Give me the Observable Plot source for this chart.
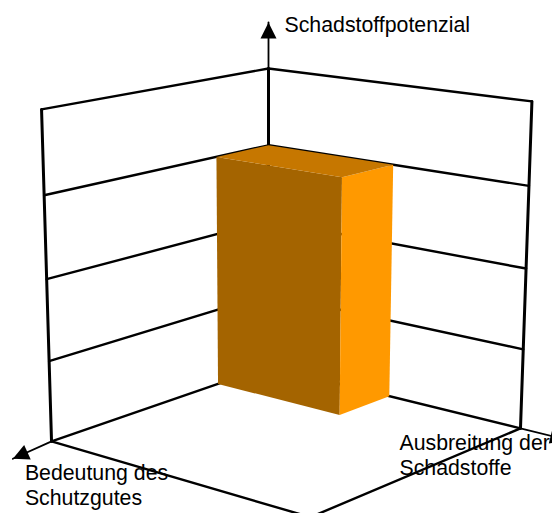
<!DOCTYPE html>
<html>
<head>
<meta charset="utf-8">
<style>html,body{margin:0;padding:0;background:#fff}</style>
<script src="https://cdn.jsdelivr.net/npm/d3@7"></script>
<script src="https://cdn.jsdelivr.net/npm/@observablehq/plot@0.6"></script>
</head>
<body>
<script>
// Risk cube: three ordinal axes, each running from 0 to 4.
const levels = [0, 1, 2, 3, 4];
const axisMax = 4;
const bedeutung = [1];
const ausbreitung = [2];
const potenzial = [3];
const faceColors = {front: "#a46400", side: "#ff9900", top: "#c67700"};
const axisLabels = ["Bedeutung des\nSchutzgutes", "Ausbreitung der\nSchadstoffe", "Schadstoffpotenzial"];

// Perspective view of the cube: u toward the lower left, v toward the lower right, w upward.
function project(u, v, w) {
  const d = 1 - 0.0227 * u - 0.0198 * v - 0.01 * w;
  return [
    (268 - 55.4 * u + 52.7 * v - 2.68 * w) / d,
    (366 + 8.71 * u + 7 * v - 75.18 * w - 0.34 * w * u - 0.275 * w * v) / d
  ];
}
const pt = (u, v, w, id) => {
  const [x, y] = project(u, v, w);
  return {x, y, id};
};
const seg = (id, a, b) => [pt(...a, id), pt(...b, id)];

const m = axisMax;
const frame = [];
// Heavy vertical edges of the two walls
const verticals = [
  ...seg("vb", [0, 0, 0], [0, 0, m]),
  ...seg("vl", [m, 0, 0], [m, 0, m]),
  ...seg("vr", [0, m, 0], [0, m, m])
];
// Level lines across both walls, and the floor outline
for (const l of levels) {
  frame.push(...seg("l" + l, [m, 0, l], [0, 0, l]), ...seg("r" + l, [0, 0, l], [0, m, l]));
}
frame.push(...seg("fl", [m, 0, 0], [m, m, 0]), ...seg("fr", [0, m, 0], [m, m, 0]));

// Thin axis shafts beyond the frame, each ending in a filled arrowhead
const axes = [
  {id: "a0", from: [m, 0, 0], to: [4.64, 0, -0.05]},
  {id: "a1", from: [0, m, 0], to: [0, 4.66, 0]},
  {id: "a2", from: [0, 0, m], to: [0, 0, 4.59]}
];
const shafts = axes.flatMap(a => seg(a.id, a.from, a.to));
const heads = axes.flatMap(a => {
  const s = pt(...a.from), t = pt(...a.to);
  const len = Math.hypot(t.x - s.x, t.y - s.y);
  const ux = (t.x - s.x) / len, uy = (t.y - s.y) / len;
  const bx = t.x - 16 * ux, by = t.y - 16 * uy;
  return [
    {x: t.x, y: t.y, id: a.id},
    {x: bx - 8 * uy, y: by + 8 * ux, id: a.id},
    {x: bx + 8 * uy, y: by - 8 * ux, id: a.id}
  ];
});
const labelAnchors = axes.map((a, i) => ({...pt(...a.to), label: axisLabels[i]}));

// The single risk block
const U = bedeutung[0], V = ausbreitung[0], W = potenzial[0];
const faces = [
  {name: "front", c: [[U, 0, 0], [U, V, 0], [U, V, W], [U, 0, W]]},
  {name: "side", c: [[0, V, 0], [U, V, 0], [U, V, W], [0, V, W]]},
  {name: "top", c: [[0, 0, W], [U, 0, W], [U, V, W], [0, V, W]]}
].flatMap(f => f.c.map(p => ({...pt(...p, f.name), color: faceColors[f.name]})));

const labelStyle = {x: "x", y: "y", text: "label", textAnchor: "start", fontSize: 21.3, fontFamily: "Liberation Sans", fill: "#000"};

const chart = Plot.plot({
  width: 552,
  height: 513,
  margin: 0,
  x: {domain: [0, 552], range: [0, 552], axis: null},
  y: {domain: [0, 513], range: [0, 513], axis: null},
  style: {background: "#fff"},
  marks: [
    Plot.line(verticals, {x: "x", y: "y", z: "id", stroke: "#000", strokeWidth: 3}),
    Plot.line(frame, {x: "x", y: "y", z: "id", stroke: "#000", strokeWidth: 2.4}),
    Plot.line(shafts, {x: "x", y: "y", z: "id", stroke: "#000", strokeWidth: 1.8}),
    Plot.line(heads, {x: "x", y: "y", z: "id", fill: "#000", stroke: null}),
    Plot.line(faces, {x: "x", y: "y", z: "id", fill: "color", stroke: null}),
    Plot.text([labelAnchors[0]], {...labelStyle, dx: 12, dy: 3.8, lineAnchor: "top", lineHeight: 1.17}),
    Plot.text([labelAnchors[1]], {...labelStyle, dx: -166.8, dy: -6.9, lineAnchor: "top", lineHeight: 1.17}),
    Plot.text([labelAnchors[2]], {...labelStyle, dx: 16, dy: 2.7, lineAnchor: "middle"})
  ]
});
document.body.appendChild(chart);
</script>
</body>
</html>
